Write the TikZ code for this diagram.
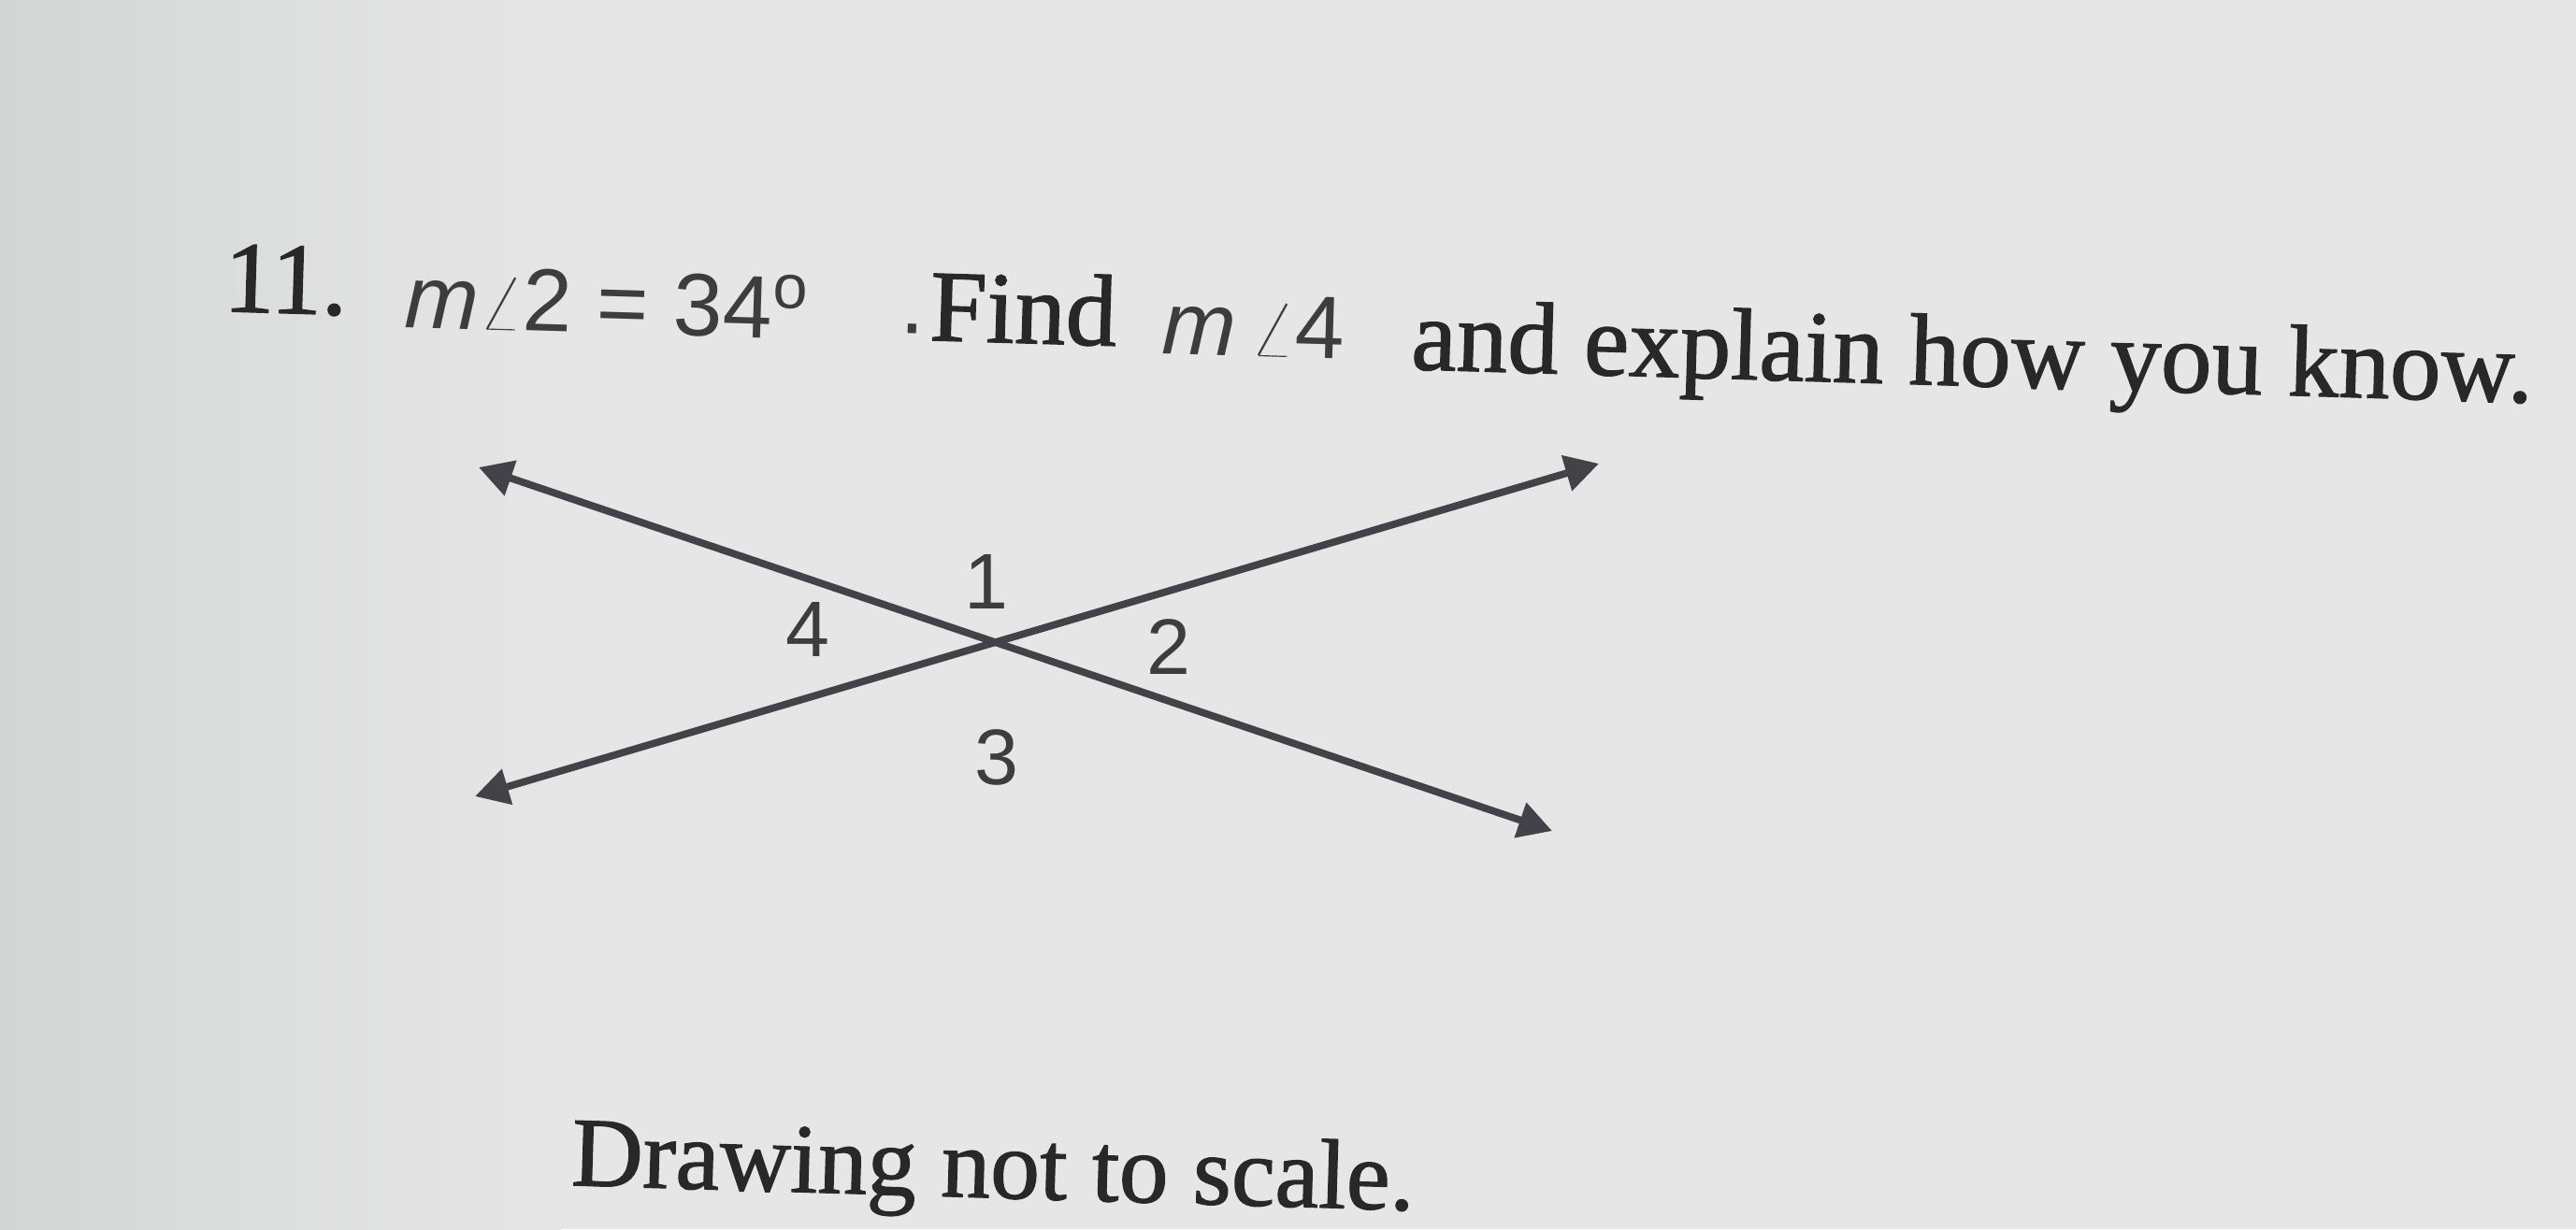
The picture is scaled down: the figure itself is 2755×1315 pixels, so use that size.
\documentclass[tikz,border=0pt]{standalone}
\usepackage{fontspec}
\setmainfont{Liberation Serif}
\newfontfamily\titlefont[FakeBold=1.2]{Liberation Serif}
\newfontfamily\labfont{Liberation Sans}
\usetikzlibrary{arrows.meta}
\definecolor{bgL}{RGB}{212,214,214}
\definecolor{bgR}{RGB}{230,230,230}
\definecolor{ink}{RGB}{40,40,42}
\definecolor{lineink}{RGB}{66,66,72}
\tikzset{
  title/.style={anchor=base west, inner sep=0pt, text=ink, rotate=-1.7, font=\titlefont\fontsize{31}{36}\selectfont},
  note/.style={title, font=\titlefont\fontsize{30}{36}\selectfont},
  mtext/.style={anchor=base west, inner sep=0pt, text=ink!90, rotate=-1.7, font=\labfont\fontsize{27}{32}\selectfont},
  lab/.style={inner sep=0pt, text=ink!90, font=\labfont\fontsize{24}{28}\selectfont},
  ray/.style={draw=lineink, line width=2.2pt, {Triangle[length=3.6mm,width=3.8mm]}-{Triangle[length=3.6mm,width=3.8mm]}}
}
\begin{document}
\begin{tikzpicture}[x=0.1mm,y=-0.1mm]
\useasboundingbox (0,0) rectangle (2755,1315);
\shade[left color=bgL, right color=bgR] (0,0) rectangle (600,1315);
\fill[bgR] (600,0) rectangle (2755,1315);
% title
\node[title] (num) at (238,333) {11.};
\node[mtext] (given) at (432,350) {\textit{m}$\angle$2 = 34\textsuperscript{o}};
\node[mtext] (dot) at (962,356) {.};
\node[title] (find) at (993,364) {Find};
\node[mtext] (ask) at (1242,378) {\textit{m}\,$\angle$4};
\node[title] (rest) at (1508,395) {and explain how you know.};
% diagram
\coordinate (O) at (1064,689);
\coordinate (A) at (512,500);
\coordinate (B) at (1660,889);
\coordinate (C) at (508,852);
\coordinate (D) at (1710,496);
\draw[ray] (A) -- (B);
\draw[ray] (C) -- (D);
\node[lab] (l1) at (1055,622) {1};
\node[lab] (l2) at (1250,692) {2};
\node[lab] (l3) at (1066,810) {3};
\node[lab] (l4) at (864,673) {4};
% note
\node[note] (note) at (610,1268) {Drawing not to scale.};
\end{tikzpicture}
\end{document}
